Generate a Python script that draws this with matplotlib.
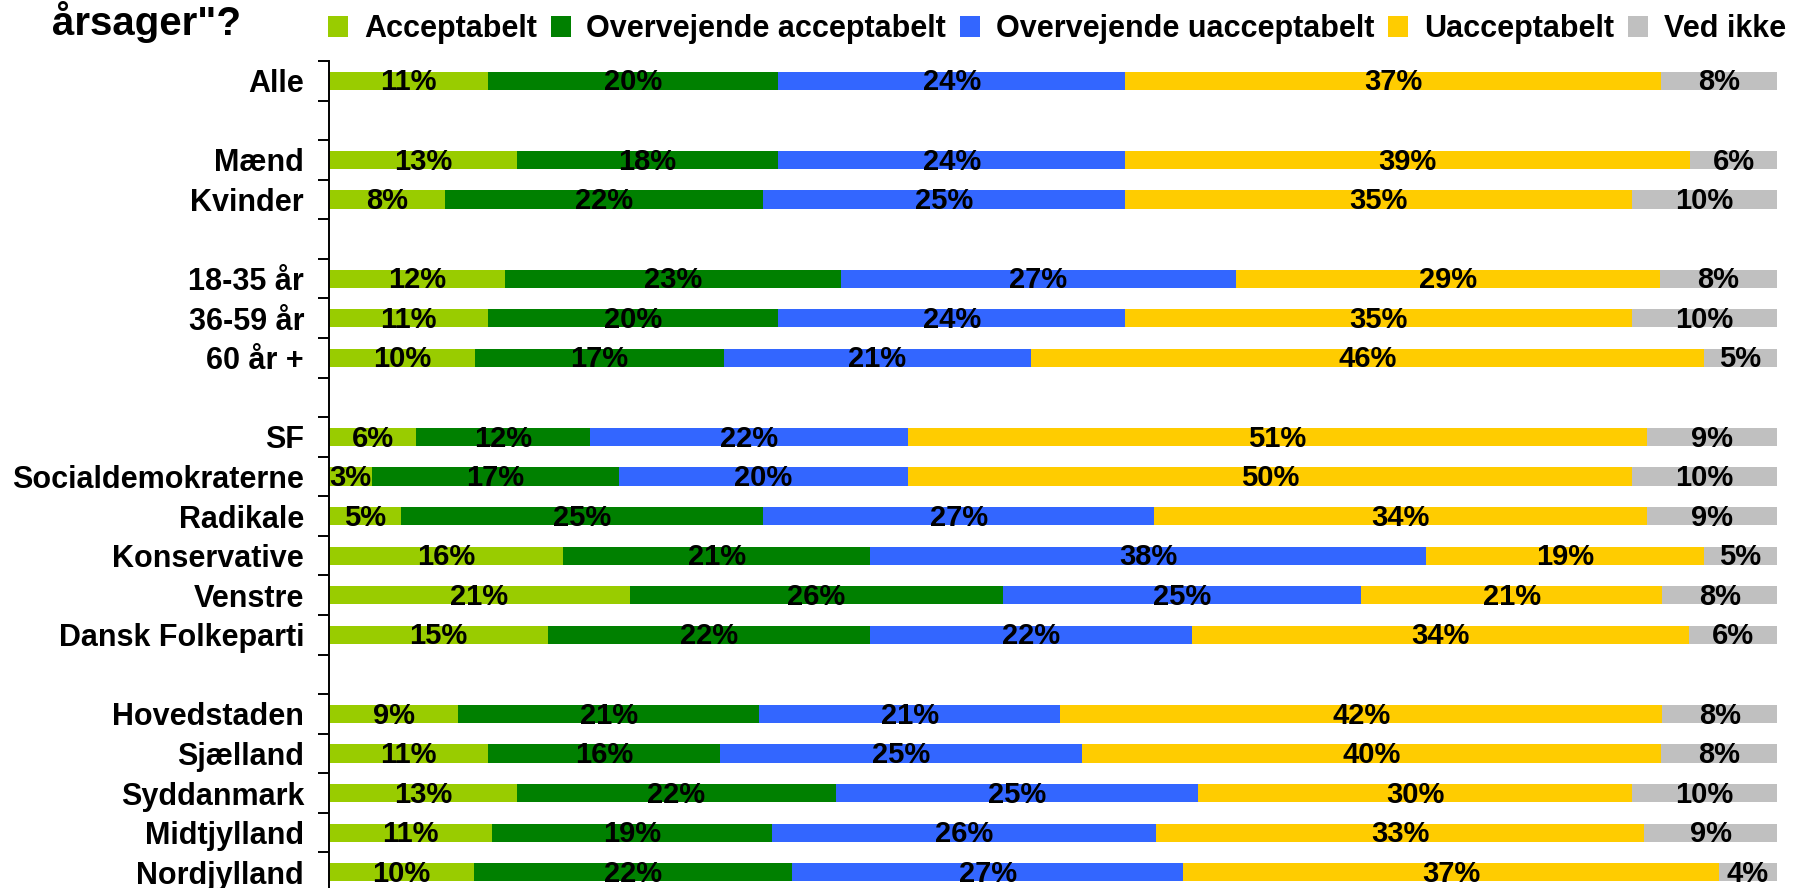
import matplotlib
matplotlib.use('Agg')
import matplotlib.pyplot as plt
import numpy as np

plt.rcParams['font.family'] = ['Liberation Sans', 'DejaVu Sans']
plt.rcParams['font.weight'] = 'bold'

categories = ['Alle', 'Mænd', 'Kvinder', '18-35 år', '36-59 år', '60 år +',
              'SF', 'Socialdemokraterne', 'Radikale', 'Konservative', 'Venstre',
              'Dansk Folkeparti', 'Hovedstaden', 'Sjælland', 'Syddanmark',
              'Midtjylland', 'Nordjylland']
group_sizes = [1, 2, 3, 6, 5]

series_names = ['Acceptabelt', 'Overvejende acceptabelt', 'Overvejende uacceptabelt',
                'Uacceptabelt', 'Ved ikke']
acceptabelt = [11, 13, 8, 12, 11, 10, 6, 3, 5, 16, 21, 15, 9, 11, 13, 11, 10]
overv_acceptabelt = [20, 18, 22, 23, 20, 17, 12, 17, 25, 21, 26, 22, 21, 16, 22, 19, 22]
overv_uacceptabelt = [24, 24, 25, 27, 24, 21, 22, 20, 27, 38, 25, 22, 21, 25, 25, 26, 27]
uacceptabelt = [37, 39, 35, 29, 35, 46, 51, 50, 34, 19, 21, 34, 42, 40, 30, 33, 37]
ved_ikke = [8, 6, 10, 8, 10, 5, 9, 10, 9, 5, 8, 6, 8, 8, 10, 9, 4]

colors = ['#99CC00', '#008000', '#3366FF', '#FFCC00', '#C0C0C0']
title_text = 'årsager"?'

W, H = 1794, 888
fig = plt.figure(figsize=(W / 100, H / 100), dpi=100)
ax = fig.add_axes([329 / W, 1 - 892 / H, (1777 - 329) / W, (892 - 61) / H])

# slot positions with one blank slot between groups
ypos = []
slot = 0
for g in group_sizes:
    for _ in range(g):
        ypos.append(slot)
        slot += 1
    slot += 1
nslots = slot - 1
ypos = np.array(ypos, dtype=float)

data = np.array([acceptabelt, overv_acceptabelt, overv_uacceptabelt, uacceptabelt, ved_ikke], dtype=float)
totals = data.sum(axis=0)
widths = data / totals * 100.0

left = np.zeros(len(categories))
for i, name in enumerate(series_names):
    ax.barh(ypos, widths[i], left=left, height=0.46, color=colors[i], label=name,
            linewidth=0)
    for j in range(len(categories)):
        ax.text(left[j] + widths[i][j] / 2, ypos[j] + 0.04, f'{int(data[i][j])}%',
                ha='center', va='center', fontsize=21, fontweight='bold', color='black')
    left += widths[i]

ax.set_xlim(0, 100)
ax.set_ylim(nslots - 0.5, -0.5)
ax.set_yticks(ypos)
ax.set_yticklabels(categories, fontsize=22, fontweight='bold')
ax.set_yticks(np.arange(-0.5, nslots, 1.0), minor=True)
ax.tick_params(axis='y', which='major', length=0, pad=18)
ax.tick_params(axis='y', which='minor', length=8, width=1.4, direction='out')
ax.set_xticks([])
for s in ['top', 'right', 'bottom']:
    ax.spines[s].set_visible(False)
ax.spines['left'].set_linewidth(1.4)

leg = ax.legend(loc='upper left', bbox_to_anchor=(328 / W, 1 - 14 / H),
                bbox_transform=fig.transFigure, ncol=5, frameon=False,
                fontsize=22, handlelength=0.65, handleheight=0.7,
                handletextpad=0.52, columnspacing=0.46, borderpad=0, borderaxespad=0)

fig.text(52 / W, 1 - 35 / H, title_text, fontsize=29, fontweight='bold',
         ha='left', va='baseline')

fig.savefig('out.png', dpi=100)
